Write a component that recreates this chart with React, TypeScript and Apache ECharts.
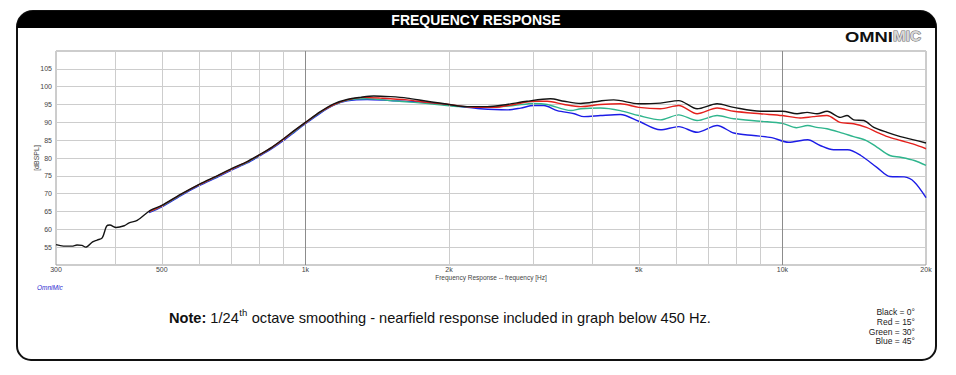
import React, { useEffect, useRef } from 'react';
import * as echarts from 'echarts';

// ---------- data ----------
const xLabelFreqs = [300, 500, 1000, 2000, 5000, 10000, 20000];
const xLabelTexts = ['300', '500', '1k', '2k', '5k', '10k', '20k'];
const minorGridFreqs = [400, 500, 600, 700, 800, 900, 2000, 3000, 4000, 5000, 6000, 7000, 8000, 9000];
const majorGridFreqs = [1000, 10000];

const blackFreq = [300, 311, 324, 332, 340, 346, 358, 366, 375, 383, 389, 401, 417, 427, 444, 473, 500, 547, 600, 653, 700, 755, 800, 850, 900, 950, 1000, 1075, 1147, 1223, 1304, 1391, 1507, 1633, 1798, 2000, 2183, 2403, 2646, 2914, 3262, 3487, 3779, 4153, 4430, 5000, 5548, 6062, 6624, 7297, 7907, 8993, 10000, 10735, 11267, 11823, 12408, 13229, 13665, 14108, 14810, 15545, 16578, 17680, 18850, 20000];
const blackDb = [55.7, 55.3, 55.3, 55.6, 55.5, 55.0, 56.5, 57.0, 57.6, 60.9, 61.2, 60.5, 61.0, 61.8, 62.5, 65.3, 66.7, 69.8, 72.7, 75.0, 77.0, 79.0, 80.9, 83.0, 85.4, 87.8, 90.0, 93.0, 95.2, 96.4, 97.0, 97.4, 97.2, 96.8, 95.9, 95.0, 94.4, 94.4, 95.0, 95.9, 96.6, 95.9, 95.3, 96.0, 96.3, 95.2, 95.4, 96.1, 93.8, 95.2, 94.2, 93.1, 93.1, 92.4, 92.8, 92.4, 93.1, 91.4, 91.9, 90.7, 90.5, 88.6, 87.2, 86.0, 85.1, 84.2];

const redFreq = [470, 500, 547, 600, 653, 700, 755, 800, 850, 900, 950, 1000, 1075, 1147, 1223, 1325, 1436, 1633, 1798, 2000, 2255, 2482, 2733, 3010, 3212, 3487, 3779, 4153, 4571, 5000, 5548, 6062, 6624, 7297, 7907, 8993, 10000, 10900, 11600, 12400, 13200, 14100, 15000, 15800, 16600, 17700, 18900, 20000];
const redDb = [65.0, 66.6, 69.7, 72.6, 74.9, 76.9, 78.9, 80.8, 82.9, 85.3, 87.7, 89.9, 92.9, 95.0, 96.3, 97.0, 96.8, 96.3, 95.6, 95.0, 94.2, 94.2, 95.0, 95.9, 95.9, 95.0, 94.4, 95.0, 95.2, 94.2, 93.8, 94.7, 92.4, 94.0, 93.1, 92.4, 91.9, 91.2, 91.6, 91.9, 90.0, 89.6, 88.6, 87.2, 86.0, 84.9, 83.8, 82.6];

const greenFreq = [470, 500, 547, 600, 653, 700, 755, 800, 850, 900, 950, 1000, 1075, 1147, 1223, 1347, 1507, 1687, 1888, 2113, 2403, 2733, 3010, 3212, 3604, 3779, 4153, 4571, 5000, 5548, 6062, 6624, 7297, 7907, 8993, 10000, 10700, 11300, 11800, 12400, 13200, 14100, 15000, 15800, 16800, 17700, 18900, 20000];
const greenDb = [64.9, 66.5, 69.6, 72.5, 74.8, 76.8, 78.8, 80.7, 82.8, 85.2, 87.5, 89.8, 92.8, 94.9, 96.2, 96.6, 96.1, 95.6, 95.0, 94.4, 94.2, 94.7, 95.3, 95.0, 93.3, 93.8, 94.0, 93.3, 91.9, 90.7, 92.1, 90.5, 91.9, 91.0, 90.3, 89.7, 88.5, 89.1, 88.6, 88.2, 87.2, 86.0, 84.9, 83.0, 80.7, 80.2, 79.3, 77.9];

const blueFreq = [470, 500, 547, 600, 653, 700, 755, 800, 850, 900, 950, 1000, 1075, 1147, 1223, 1347, 1507, 1687, 1888, 2113, 2328, 2646, 2827, 3010, 3162, 3371, 3663, 3837, 4153, 4571, 5000, 5548, 6062, 6624, 7297, 7907, 8700, 9500, 10300, 11300, 12000, 12800, 13700, 14600, 15800, 16800, 18000, 18900, 20000];
const blueDb = [64.7, 66.3, 69.4, 72.3, 74.6, 76.6, 78.6, 80.5, 82.6, 84.9, 87.3, 89.6, 92.6, 94.8, 96.0, 96.4, 96.1, 95.8, 95.2, 94.4, 93.8, 93.5, 94.0, 94.7, 94.7, 93.3, 92.4, 91.6, 91.9, 92.2, 90.3, 87.9, 88.8, 87.2, 89.1, 87.0, 86.3, 85.7, 84.4, 85.1, 83.5, 82.3, 82.3, 80.7, 77.3, 74.8, 74.7, 73.3, 68.9];

const legendLines = ['Black = 0°', 'Red = 15°', 'Green = 30°', 'Blue = 45°'];

const FONT = '"Liberation Sans", Arial, Helvetica, sans-serif';

function measure(text: string, font: string): number {
  const c = document.createElement('canvas').getContext('2d');
  if (!c) return text.length * 7;
  c.font = font;
  return c.measureText(text).width;
}

function pairs(f: number[], d: number[]) {
  return f.map((v, i) => [v, d[i]]);
}

export default function App() {
  const ref = useRef<HTMLDivElement>(null);
  useEffect(() => {
    if (!ref.current) return;
    const chart = echarts.init(ref.current, null, { renderer: 'svg' });

    const gridItems: any[] = [];
    minorGridFreqs.forEach((f) => {
      gridItems.push({ xAxis: f, lineStyle: { color: '#cdcdcd', width: 1, type: 'solid' }, label: { show: false } });
    });
    majorGridFreqs.forEach((f) => {
      gridItems.push({ xAxis: f, lineStyle: { color: '#8c8c8c', width: 1, type: 'solid' }, label: { show: false } });
    });
    const labelItems: any[] = xLabelFreqs.map((f, i) => ({
      xAxis: f,
      lineStyle: { color: 'rgba(255,255,255,0)', width: 1, type: 'solid' },
      label: { show: true, position: 'start', distance: 1, formatter: xLabelTexts[i], color: '#444', fontSize: 7, fontFamily: FONT },
    }));

    // note text pieces
    const noteY = 318;
    const noteX = 169;
    const fNote = 14.6;
    const wNote = measure('Note:', `bold ${fNote}px ${FONT}`);
    const wSpace = measure(' ', `${fNote}px ${FONT}`);
    const w124 = measure('1/24', `${fNote}px ${FONT}`);
    const wTh = measure('th', `9.5px ${FONT}`);
    const x2 = noteX + wNote + wSpace;
    const x3 = x2 + w124 + 0.5;
    const x4 = x3 + wTh + 0.5;

    // logo
    const omniW = measure('OMNI', `bold 14px ${FONT}`);
    const micW = measure('MIC', `bold 14px ${FONT}`);

    const lineSeries = (name: string, f: number[], d: number[], color: string, z: number) => ({
      name,
      type: 'line',
      data: pairs(f, d),
      showSymbol: false,
      symbol: 'none',
      smooth: 0.3,
      z,
      lineStyle: { color, width: 1.4 },
      silent: true,
    });

    chart.setOption({
      animation: false,
      backgroundColor: '#ffffff',
      grid: { left: 56, top: 51, width: 870, height: 214, show: true, borderColor: '#9a9a9a', borderWidth: 1, containLabel: false },
      xAxis: {
        type: 'log',
        logBase: 10,
        min: 300,
        max: 20000,
        name: 'Frequency Response -- frequency [Hz]',
        nameLocation: 'middle',
        nameGap: 9,
        nameMoveOverlap: false,
        nameTextStyle: { fontSize: 6.5, color: '#444', fontFamily: FONT },
        axisLine: { show: false },
        axisTick: { show: false },
        axisLabel: { show: false },
        splitLine: { show: false },
        minorSplitLine: { show: false },
      },
      yAxis: {
        type: 'value',
        min: 50,
        max: 110,
        interval: 5,
        name: '[dBSPL]',
        nameLocation: 'middle',
        nameRotate: 90,
        nameGap: 16,
        nameMoveOverlap: false,
        nameTextStyle: { fontSize: 7, color: '#444', fontFamily: FONT },
        axisLine: { show: false },
        axisTick: { show: false },
        axisLabel: {
          fontSize: 7,
          color: '#444',
          fontFamily: FONT,
          margin: 4,
          formatter: (v: number) => (v === 50 || v === 110 ? '' : String(v)),
        },
        splitLine: { show: true, lineStyle: { color: '#cdcdcd', width: 1 } },
      },
      series: [
        {
          name: 'grid',
          type: 'line',
          data: [[300, 50]],
          symbol: 'none',
          lineStyle: { width: 0, opacity: 0 },
          z: 1,
          silent: true,
          markLine: { silent: true, symbol: ['none', 'none'], animation: false, data: gridItems },
        },
        {
          name: 'ticks',
          type: 'line',
          data: [[300, 50]],
          symbol: 'none',
          lineStyle: { width: 0, opacity: 0 },
          z: 1,
          silent: true,
          markLine: { silent: true, symbol: ['none', 'none'], animation: false, data: labelItems },
        },
        lineSeries('Blue = 45°', blueFreq, blueDb, '#1c1ce6', 3),
        lineSeries('Green = 30°', greenFreq, greenDb, '#2fb58d', 4),
        lineSeries('Red = 15°', redFreq, redDb, '#e4201c', 5),
        lineSeries('Black = 0°', blackFreq, blackDb, '#141414', 6),
      ],
      graphic: [
        {
          type: 'rect',
          shape: { x: 17, y: 11, width: 919, height: 349, r: [16, 16, 14, 14] },
          style: { fill: 'none', stroke: '#111', lineWidth: 2 },
          z: 0,
          silent: true,
        },
        {
          type: 'rect',
          shape: { x: 17, y: 11, width: 919, height: 17, r: [16, 16, 0, 0] },
          style: { fill: '#000' },
          z: 0,
          silent: true,
        },
        {
          type: 'text',
          x: 476,
          y: 19.5,
          style: { text: 'FREQUENCY RESPONSE', fill: '#fff', font: `bold 14px ${FONT}`, align: 'center', verticalAlign: 'middle' },
          z: 10,
        },
        {
          type: 'text',
          x: 845,
          y: 36.5,
          scaleX: 48 / omniW,
          style: { text: 'OMNI', fill: '#111', font: `bold 14px ${FONT}`, align: 'left', verticalAlign: 'middle' },
          z: 10,
        },
        {
          type: 'text',
          x: 893,
          y: 36.5,
          scaleX: 28 / micW,
          style: { text: 'MIC', fill: '#d8d8d8', stroke: '#6e6e6e', lineWidth: 1, font: `bold 14px ${FONT}`, align: 'left', verticalAlign: 'middle' },
          z: 10,
        },
        {
          type: 'text',
          x: 37,
          y: 287,
          style: { text: 'OmniMic', fill: '#2a2ad0', font: `italic 6.5px ${FONT}`, align: 'left', verticalAlign: 'middle' },
          z: 10,
        },
        {
          type: 'text',
          x: noteX,
          y: noteY,
          style: { text: 'Note:', fill: '#111', font: `bold ${fNote}px ${FONT}`, align: 'left', verticalAlign: 'middle' },
          z: 10,
        },
        {
          type: 'text',
          x: x2,
          y: noteY,
          style: { text: '1/24', fill: '#111', font: `${fNote}px ${FONT}`, align: 'left', verticalAlign: 'middle' },
          z: 10,
        },
        {
          type: 'text',
          x: x3,
          y: noteY - 5.5,
          style: { text: 'th', fill: '#111', font: `9.5px ${FONT}`, align: 'left', verticalAlign: 'middle' },
          z: 10,
        },
        {
          type: 'text',
          x: x4,
          y: noteY,
          style: { text: ' octave smoothing - nearfield response included in graph below 450 Hz.', fill: '#111', font: `${fNote}px ${FONT}`, align: 'left', verticalAlign: 'middle' },
          z: 10,
        },
        ...legendLines.map((t, i) => ({
          type: 'text',
          x: 915,
          y: 312 + i * 9.8,
          style: { text: t, fill: '#222', font: `8.5px ${FONT}`, align: 'right', verticalAlign: 'middle' },
          z: 10,
        })),
      ],
    });
    return () => chart.dispose();
  }, []);
  return <div ref={ref} style={{ position: 'absolute', left: 0, top: 0, width: 956, height: 375 }} />;
}
